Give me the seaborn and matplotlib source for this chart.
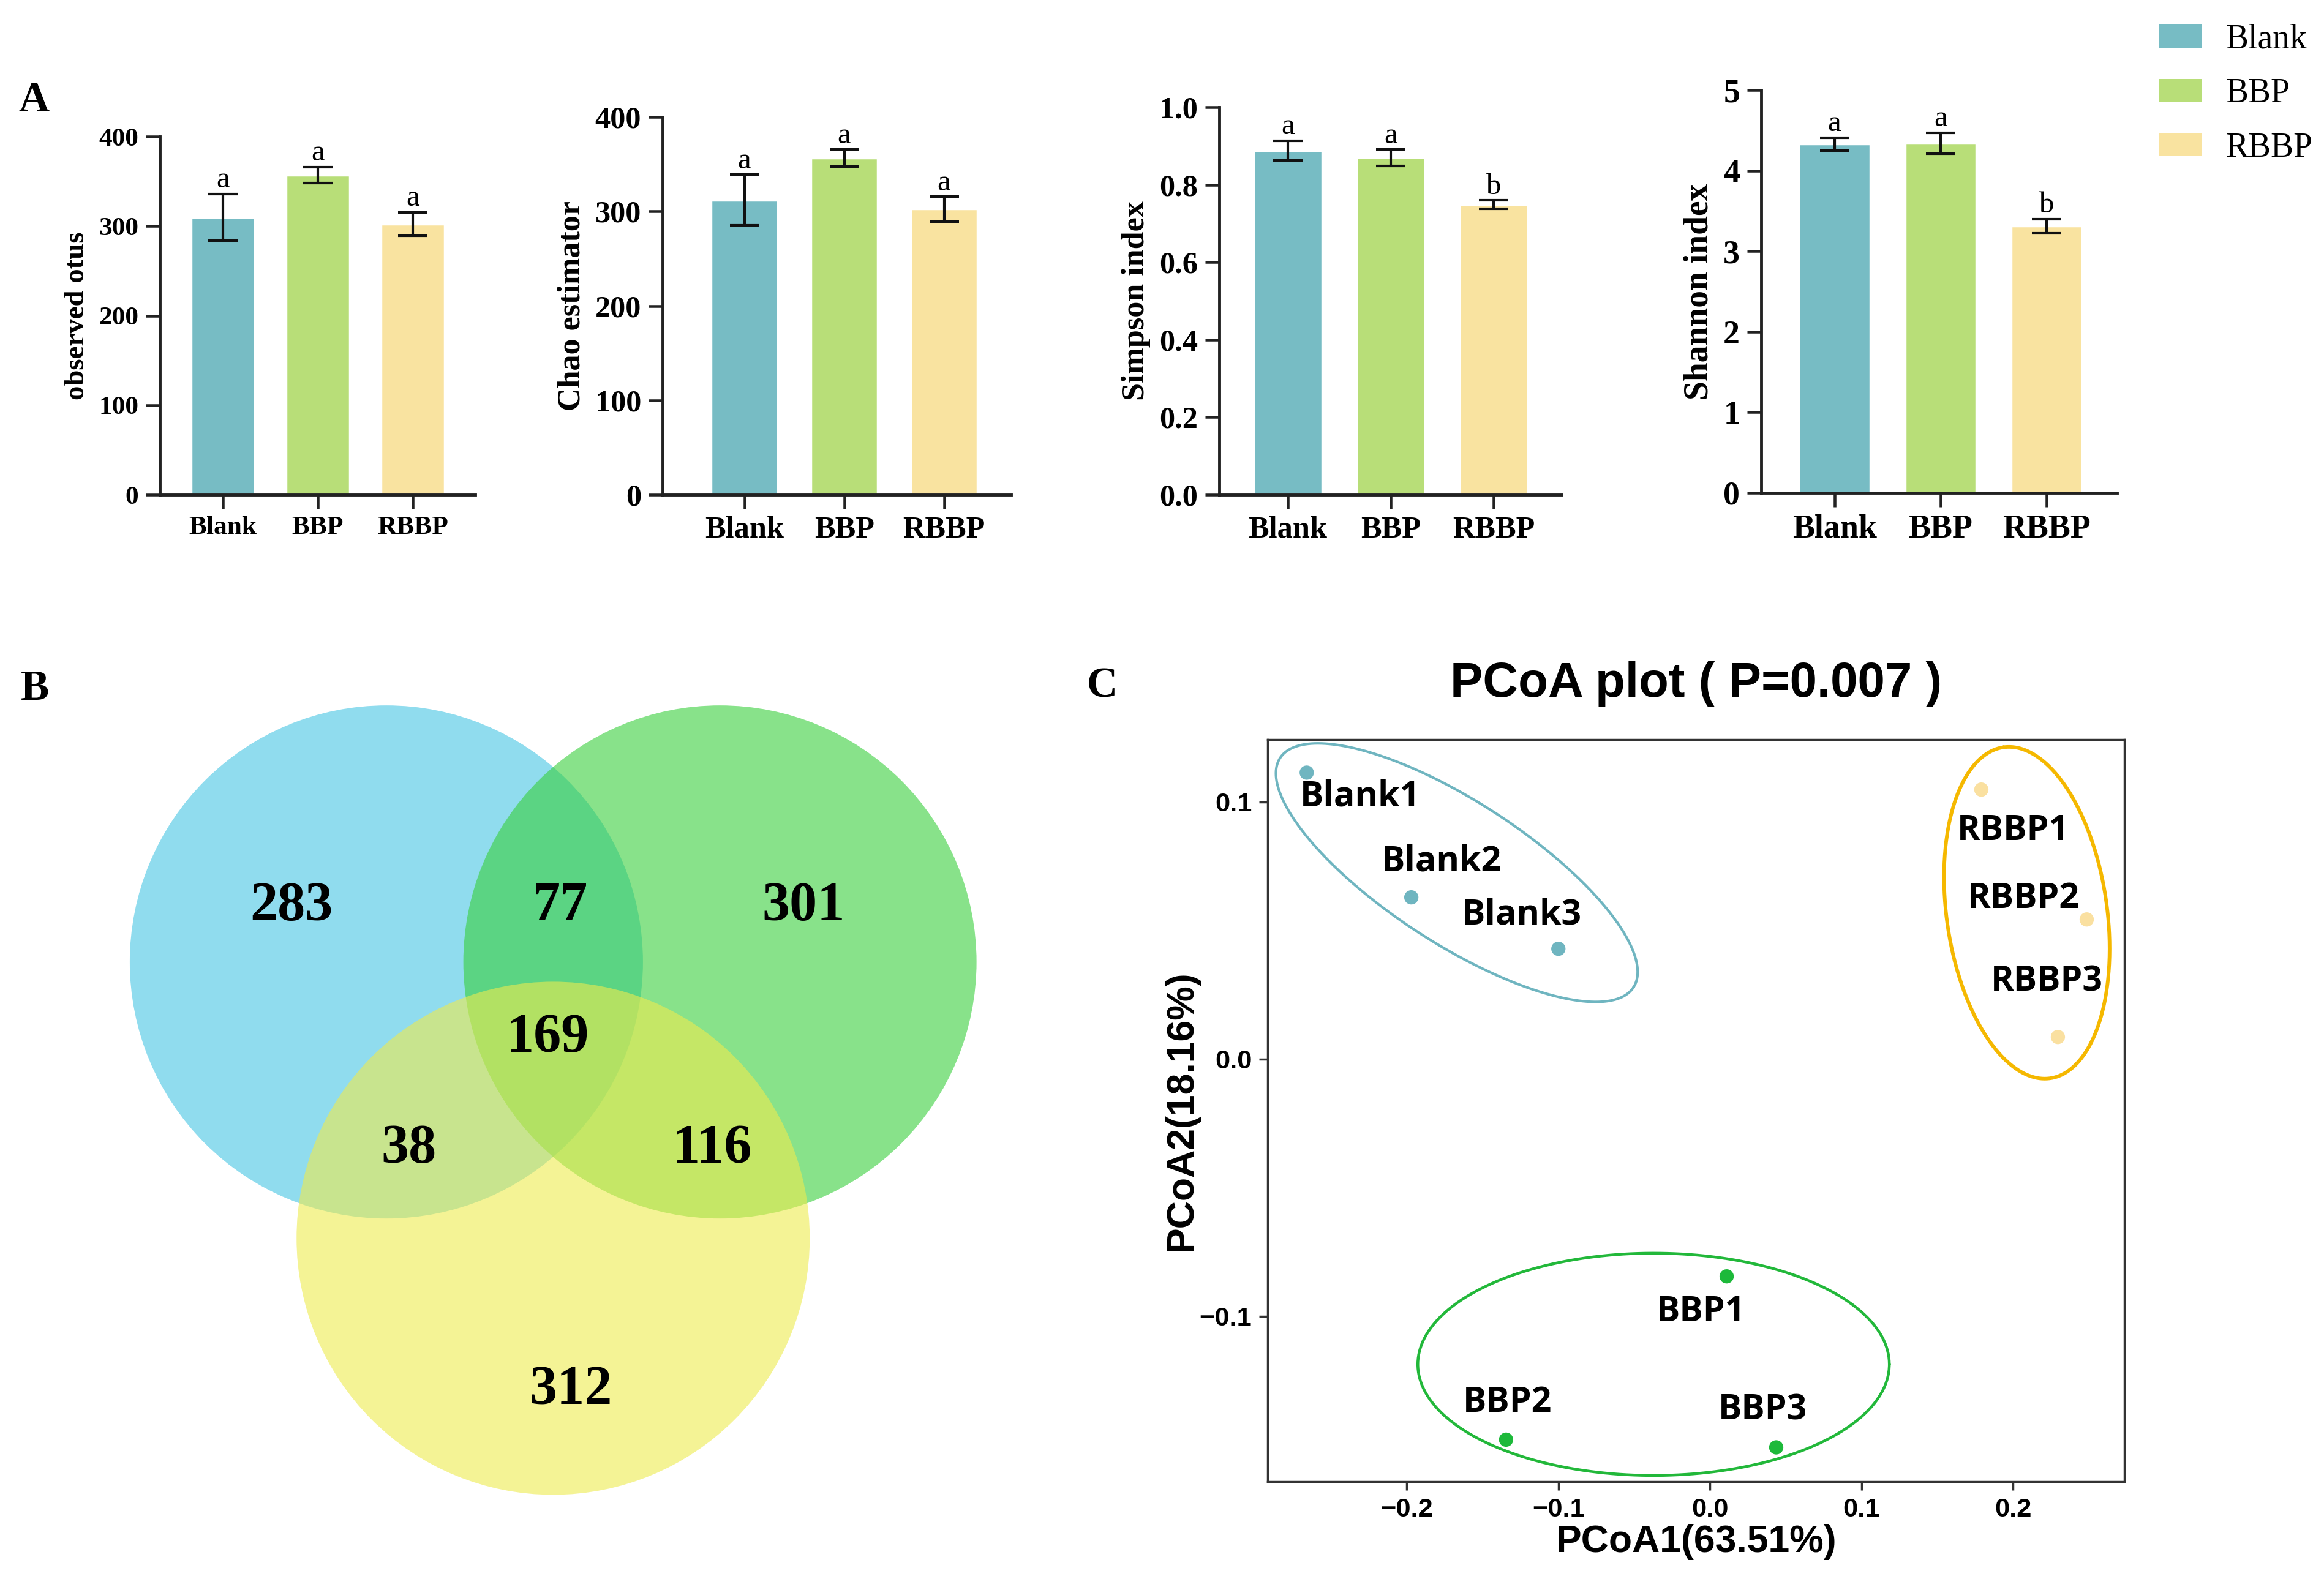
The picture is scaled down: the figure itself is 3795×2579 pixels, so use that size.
import numpy as np
import pandas as pd
import seaborn as sns
import matplotlib.pyplot as plt
from matplotlib.patches import Circle, Patch

sns.set_style('ticks')
plt.rcParams['font.family'] = ['Liberation Serif', 'DejaVu Serif']
plt.rcParams['text.color'] = 'black'
plt.rcParams['axes.labelcolor'] = 'black'
plt.rcParams['xtick.color'] = 'black'
plt.rcParams['ytick.color'] = 'black'

# ---- data -------------------------------------------------------------
groups = ['Blank', 'BBP', 'RBBP']
bar_colors = ['#77BCC4', '#B8DE78', '#F9E3A0']

otus_mean = [310, 357, 302.5]
otus_sd = [26, 9, 13]
chao_mean = [312, 356.5, 302.5]
chao_sd = [27, 9, 13]
simpson_mean = [0.888, 0.870, 0.749]
simpson_sd = [0.026, 0.021, 0.011]
shannon_mean = [4.33, 4.34, 3.31]
shannon_sd = [0.08, 0.13, 0.09]

otus_letters = ['a', 'a', 'a']
chao_letters = ['a', 'a', 'a']
simpson_letters = ['a', 'a', 'b']
shannon_letters = ['a', 'a', 'b']

# venn regions: Blank only, Blank&BBP, BBP only, all three, Blank&RBBP, BBP&RBBP, RBBP only
venn_regions = ['Blank', 'Blank_BBP', 'BBP', 'all', 'Blank_RBBP', 'BBP_RBBP', 'RBBP']
venn_counts = [283, 77, 301, 169, 38, 116, 312]

# PCoA
samples = ['Blank1', 'Blank2', 'Blank3', 'BBP1', 'BBP2', 'BBP3', 'RBBP1', 'RBBP2', 'RBBP3']
sample_group = ['Blank'] * 3 + ['BBP'] * 3 + ['RBBP'] * 3
pc1 = [-0.266, -0.197, -0.100, 0.011, -0.1345, 0.0437, 0.179, 0.2485, 0.2295]
pc2 = [0.1114, 0.0629, 0.0429, -0.0845, -0.148, -0.151, 0.1048, 0.0543, 0.0086]
point_colors = {'Blank': '#6FB5C0', 'BBP': '#1DB93A', 'RBBP': '#FAE0A0'}
ellipse_colors = {'Blank': '#6FB5C0', 'BBP': '#22B83A', 'RBBP': '#F5B800'}

# ---- figure -------------------------------------------------------------
fig = plt.figure(figsize=(15.18, 10.316), dpi=250)

bar_panels = [
    (otus_mean, otus_sd, otus_letters, 'observed otus', 400, [0, 100, 200, 300, 400],
     [0.0688, 0.6867, 0.1357, 0.2268], (-0.665, 2.66), 12.5, 13.5),
    (chao_mean, chao_sd, chao_letters, 'Chao estimator', 400, [0, 100, 200, 300, 400],
     [0.2851, 0.6867, 0.1499, 0.2392], (-0.82, 2.67), 14.5, 15),
    (simpson_mean, simpson_sd, simpson_letters, 'Simpson index', 1.0, [0, 0.2, 0.4, 0.6, 0.8, 1.0],
     [0.5246, 0.6867, 0.1473, 0.2454], (-0.667, 2.66), 14.5, 15),
    (shannon_mean, shannon_sd, shannon_letters, 'Shannon index', 5, [0, 1, 2, 3, 4, 5],
     [0.7578, 0.6879, 0.1531, 0.2551], (-0.69, 2.66), 15.5, 16),
]

for mean, sd, letters, ylab, ymax, yt, rect, xl, fs, lfs in bar_panels:
    ax = fig.add_axes(rect)
    df = pd.DataFrame({'group': groups, 'value': mean, 'sd': sd})
    sns.barplot(data=df, x='group', y='value', hue='group', palette=bar_colors,
                order=groups, hue_order=groups, width=0.67, saturation=1,
                errorbar=None, legend=False, ax=ax)
    ax.errorbar(range(3), mean, yerr=sd, fmt='none', ecolor='#111111',
                elinewidth=1.2, capsize=7, capthick=1.2)
    for i, (m, s, l) in enumerate(zip(mean, sd, letters)):
        ax.annotate(l, (i, m + s), xytext=(0, 3), textcoords='offset points',
                    ha='center', va='baseline', fontsize=14,
                    fontfamily='Liberation Serif')
    ax.set_xlim(*xl)
    ax.set_ylim(0, ymax)
    ax.set_yticks(yt)
    if ymax == 1.0:
        ax.set_yticklabels([f'{v:.1f}' for v in yt])
    else:
        ax.set_yticklabels([f'{v:g}' for v in yt])
    sns.despine(ax=ax)
    ax.spines['left'].set_bounds(0, ymax)
    for sp in ['left', 'bottom']:
        ax.spines[sp].set_linewidth(1.4)
        ax.spines[sp].set_color('#222222')
    ax.tick_params(axis='both', direction='out', length=6.5, width=1.3, color='#222222',
                   labelsize=fs)
    for t in ax.get_xticklabels() + ax.get_yticklabels():
        t.set_fontweight('bold')
        t.set_fontfamily('Liberation Serif')
    ax.set_xlabel('')
    ax.set_ylabel(ylab, fontsize=lfs, fontweight='bold', fontfamily='Liberation Serif')

fig.legend(handles=[Patch(facecolor=c, edgecolor='none') for c in bar_colors],
           labels=groups, loc='upper left', bbox_to_anchor=(0.9289, 0.985),
           frameon=False, prop={'family': 'Liberation Serif', 'size': 16},
           borderpad=0, borderaxespad=0,
           handlelength=1.28, handleheight=0.67, handletextpad=0.68, labelspacing=0.66)

# ---- Venn ---------------------------------------------------------------
axv = fig.add_axes([0.0395, 0.0306, 0.4084, 0.5428])
axv.set_xlim(-1.148, 2.551)
axv.set_ylim(-2.217, 1.124)
axv.set_aspect('equal')
axv.axis('off')
circle_specs = [((0.0, 0.0), '#46C5E3'), ((1.30, 0.0), '#39D03C'), ((0.65, -1.077), '#EEEB4E')]
for (c, col) in circle_specs:
    axv.add_patch(Circle(c, 1.0, facecolor=col, alpha=0.6, edgecolor='none'))
region_pos = [(-0.37, 0.215), (0.678, 0.215), (1.625, 0.215), (0.63, -0.297),
              (0.088, -0.73), (1.27, -0.73), (0.718, -1.668)]
for (x, y), n in zip(region_pos, venn_counts):
    axv.text(x, y, str(n), ha='center', va='center', fontsize=26,
             fontweight='bold', fontfamily='Liberation Serif')

# ---- PCoA ---------------------------------------------------------------
axp = fig.add_axes([0.5455, 0.0617, 0.3687, 0.470])
pdf = pd.DataFrame({'sample': samples, 'group': sample_group, 'PC1': pc1, 'PC2': pc2})
sns.scatterplot(data=pdf, x='PC1', y='PC2', hue='group', palette=point_colors,
                s=45, edgecolor='none', legend=False, ax=axp, zorder=3)
axp.set_xlim(-0.2917, 0.2735)
axp.set_ylim(-0.1643, 0.1243)
axp.set_xticks([-0.2, -0.1, 0.0, 0.1, 0.2])
axp.set_yticks([-0.1, 0.0, 0.1])
for sp in axp.spines.values():
    sp.set_linewidth(1.0)
    sp.set_color('#333333')
axp.tick_params(direction='out', length=4, width=1.0, labelsize=12.5, color='#333333')
for t in axp.get_xticklabels() + axp.get_yticklabels():
    t.set_fontweight('bold')
    t.set_fontfamily('Liberation Sans')
axp.set_xlabel('PCoA1(63.51%)', fontsize=18, fontweight='bold', fontfamily='Liberation Sans',
               labelpad=1)
axp.set_ylabel('PCoA2(18.16%)', fontsize=18, fontweight='bold', fontfamily='Liberation Sans',
               labelpad=0)
axp.set_title('PCoA plot ( P=0.007 )', fontsize=23, fontweight='bold',
              fontfamily='Liberation Sans', pad=20)

label_offsets = [(0.035, -0.0094), (0.020, 0.0138), (-0.024, 0.0131),
                 (-0.017, -0.0138), (0.001, 0.0144), (-0.009, 0.0143),
                 (0.021, -0.016), (-0.0415, 0.0081), (-0.0075, 0.0214)]
for name, x, y, (dx, dy) in zip(samples, pc1, pc2, label_offsets):
    axp.text(x + dx, y + dy, name, ha='center', va='center', fontsize=16.5,
             fontweight='bold', fontfamily='Open Sans')

# ellipses: centre (data), semi-axes (px), angle (deg), line width
ellipses = {'Blank': ((-0.167, 0.0725), 344, 116, -33, 1.2),
            'RBBP': ((0.209, 0.0569), 273, 131, 98, 1.7),
            'BBP': ((-0.0372, -0.1187), 385, 181.5, 0, 1.3)}
bb = axp.get_window_extent()
sx = bb.width / (axp.get_xlim()[1] - axp.get_xlim()[0])
sy = bb.height / (axp.get_ylim()[1] - axp.get_ylim()[0])
t = np.linspace(0, 2 * np.pi, 400)
for g, ((cx, cy), a, b, ang, lw) in ellipses.items():
    th = np.deg2rad(ang)
    u = a * np.cos(t) * np.cos(th) - b * np.sin(t) * np.sin(th)
    v = a * np.cos(t) * np.sin(th) + b * np.sin(t) * np.cos(th)
    axp.plot(cx + u / sx, cy + v / sy, color=ellipse_colors[g], lw=lw, zorder=2)

# panel letters
for lab, x, y in [('A', 0.0145, 0.936), ('B', 0.015, 0.5634), ('C', 0.4743, 0.5653)]:
    fig.text(x, y, lab, ha='center', va='center', fontsize=20, fontweight='bold',
             fontfamily='Liberation Serif')

fig.savefig('out.png', dpi=250)
